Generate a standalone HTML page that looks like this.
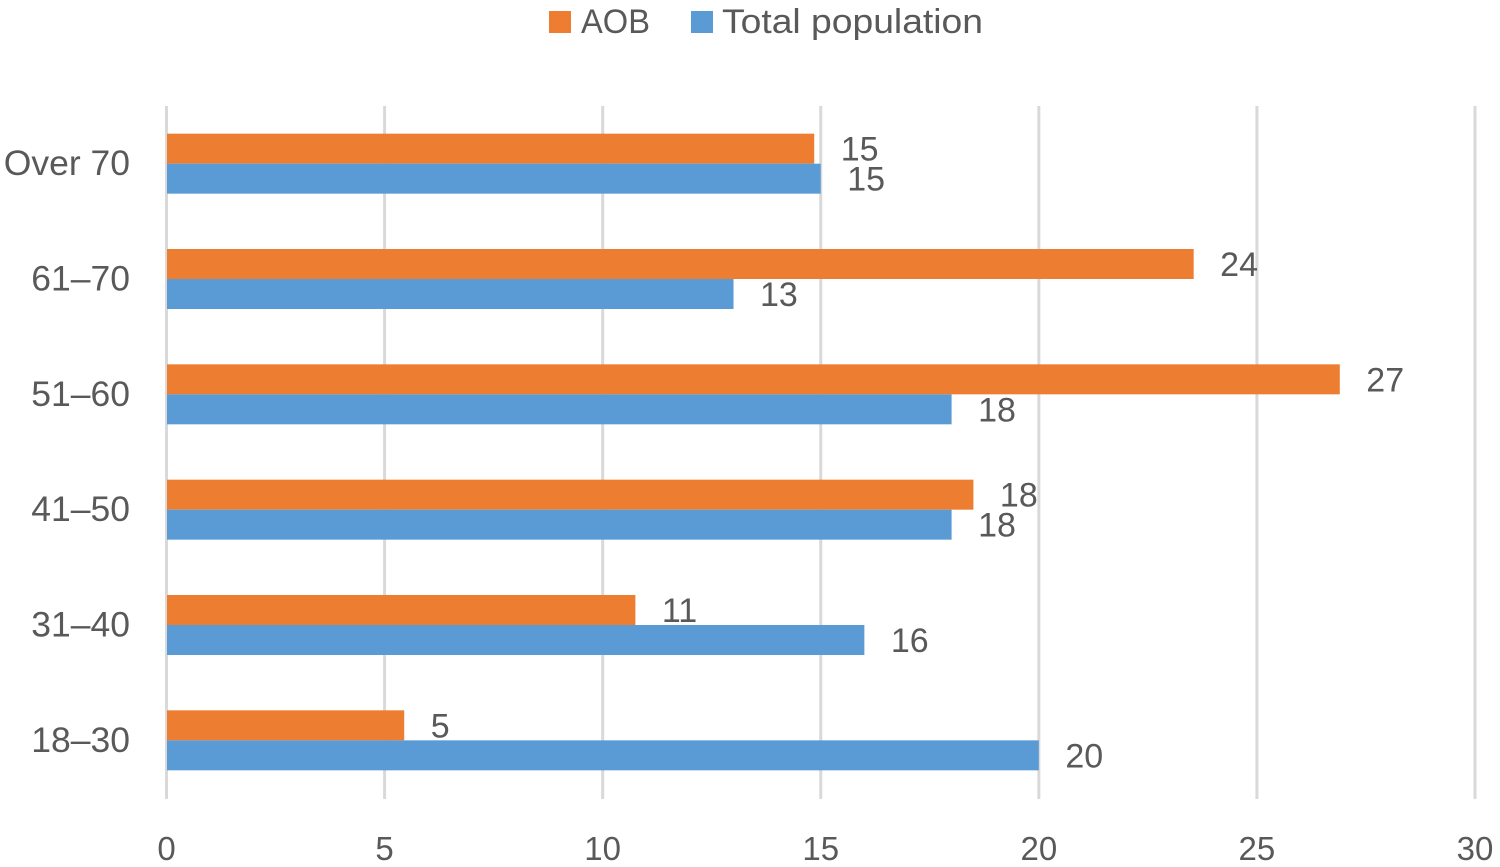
<!DOCTYPE html>
<html>
<head>
<meta charset="utf-8">
<style>
html,body{margin:0;padding:0;background:#fff;width:1500px;height:867px;overflow:hidden}
svg{display:block}
text{font-family:"Liberation Sans",sans-serif;font-size:34px;fill:#595959}
.cat{font-size:35.5px}
.tick{font-size:33px}
</style>
</head>
<body>
<svg id="chart" width="1500" height="867" viewBox="0 0 1500 867" xmlns="http://www.w3.org/2000/svg">
<g id="grid"></g>
<g id="bars"></g>
<g id="labels"></g>
<g id="cats"></g>
<g id="ticks"></g>
<g>
<rect x="549" y="11" width="22" height="22" fill="#ed7d31"/>
<text x="581" y="33" textLength="69" lengthAdjust="spacingAndGlyphs">AOB</text>
<rect x="691" y="11" width="22" height="22" fill="#5b9bd5"/>
<text x="722" y="33" textLength="261" lengthAdjust="spacingAndGlyphs">Total population</text>
</g>
</svg>
<script>
const categories = ['Over 70', '61–70', '51–60', '41–50', '31–40', '18–30'];
const aobValues = [14.85, 23.55, 26.9, 18.5, 10.75, 5.45];
const totalValues = [15, 13, 18, 18, 16, 20];
const aobLabels = ['15', '24', '27', '18', '11', '5'];
const totalLabels = ['15', '13', '18', '18', '16', '20'];
const xTicks = [0, 5, 10, 15, 20, 25, 30];

const NS = 'http://www.w3.org/2000/svg';
const xMax = 30;
const x0 = 166.5, x1 = 1475;
const barStart = 167;
const plotTop = 106, plotBottom = 798;
const bandHeight = (plotBottom - plotTop) / categories.length;
const barHeight = 30;
function xScale(v) { return x0 + (v / xMax) * (x1 - x0); }
function yCenter(i) { return plotTop + bandHeight * (i + 0.5); }
function make(tag, attrs, parent, txt) {
  const el = document.createElementNS(NS, tag);
  for (const k in attrs) el.setAttribute(k, attrs[k]);
  if (txt !== undefined) el.textContent = txt;
  parent.appendChild(el);
  return el;
}
const grid = document.getElementById('grid');
const bars = document.getElementById('bars');
const labels = document.getElementById('labels');
const cats = document.getElementById('cats');
const ticks = document.getElementById('ticks');

xTicks.forEach(function (t) {
  const line = make('line', {x1: xScale(t), x2: xScale(t), y1: plotTop, y2: plotBottom + 1, stroke: '#d9d9d9', 'stroke-width': 3}, grid);
  
  
  const lab = make('text', {class: 'tick', x: xScale(t), y: 860, 'text-anchor': 'middle'}, ticks, String(t));
  
  
});

categories.forEach(function (c, i) {
  const cy = yCenter(i);
  const catLabel = make('text', {class: 'cat', x: 130, y: cy + 11.5, 'text-anchor': 'end'}, cats, c);
  
  

  const a = make('rect', {x: barStart, y: cy - barHeight, width: xScale(aobValues[i]) - barStart, height: barHeight, fill: '#ed7d31'}, bars);
  
  
  const b = make('rect', {x: barStart, y: cy, width: xScale(totalValues[i]) - barStart, height: barHeight, fill: '#5b9bd5'}, bars);
  
  

  const la = make('text', {x: xScale(aobValues[i]) + 26.5, y: cy - barHeight / 2 + 12}, labels, aobLabels[i]);
  
  
  const lb = make('text', {x: xScale(totalValues[i]) + 26.5, y: cy + barHeight / 2 + 12}, labels, totalLabels[i]);
  
  
});
</script>
</body>
</html>
